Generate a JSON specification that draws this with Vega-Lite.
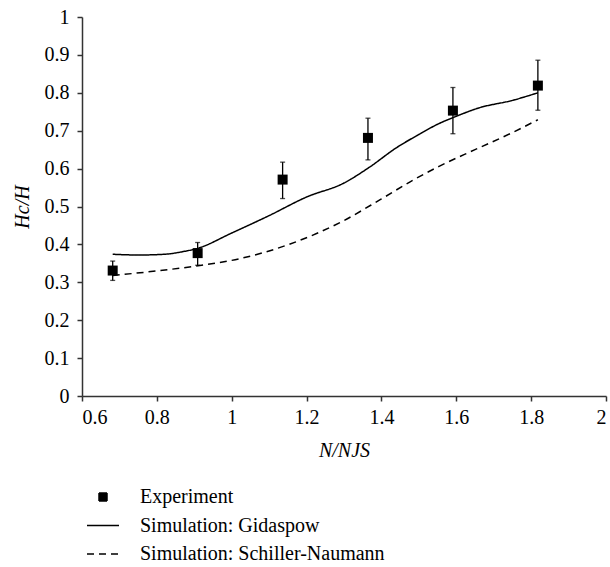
{
  "$schema": "https://vega.github.io/schema/vega-lite/v6.json",
  "width": 524,
  "height": 379,
  "autosize": {"type": "none"},
  "padding": {"left": 82, "top": 17, "right": 4, "bottom": 171},
  "background": "white",
  "config": {
    "view": {"stroke": null},
    "font": "Times New Roman, Liberation Serif, serif",
    "axis": {
      "grid": false,
      "domainColor": "#333333",
      "tickColor": "#333333",
      "domainWidth": 1.5,
      "tickWidth": 1.5,
      "tickSize": 5,
      "labelFont": "Times New Roman, Liberation Serif, serif",
      "labelFontSize": 20,
      "labelColor": "black",
      "titleFont": "Times New Roman, Liberation Serif, serif",
      "titleFontSize": 20,
      "titleFontStyle": "italic",
      "titleFontWeight": "normal",
      "titleColor": "black"
    },
    "legend": {
      "labelFont": "Times New Roman, Liberation Serif, serif",
      "labelFontSize": 20,
      "labelColor": "black",
      "labelLimit": 400
    }
  },
  "datasets": {
    "exp": [
      {"x": 0.682, "y": 0.331, "lo": 0.305, "hi": 0.356, "series": "Experiment"},
      {"x": 0.909, "y": 0.377, "lo": 0.345, "hi": 0.405, "series": "Experiment"},
      {"x": 1.136, "y": 0.571, "lo": 0.521, "hi": 0.617, "series": "Experiment"},
      {"x": 1.364, "y": 0.681, "lo": 0.623, "hi": 0.733, "series": "Experiment"},
      {"x": 1.591, "y": 0.753, "lo": 0.692, "hi": 0.814, "series": "Experiment"},
      {"x": 1.818, "y": 0.819, "lo": 0.754, "hi": 0.886, "series": "Experiment"}
    ],
    "sim": [
      {"x": 0.682, "y": 0.374, "series": "Simulation: Gidaspow"},
      {"x": 0.75, "y": 0.372, "series": "Simulation: Gidaspow"},
      {"x": 0.82, "y": 0.374, "series": "Simulation: Gidaspow"},
      {"x": 0.87, "y": 0.381, "series": "Simulation: Gidaspow"},
      {"x": 0.91, "y": 0.39, "series": "Simulation: Gidaspow"},
      {"x": 1.0, "y": 0.43, "series": "Simulation: Gidaspow"},
      {"x": 1.1, "y": 0.476, "series": "Simulation: Gidaspow"},
      {"x": 1.2, "y": 0.525, "series": "Simulation: Gidaspow"},
      {"x": 1.3, "y": 0.562, "series": "Simulation: Gidaspow"},
      {"x": 1.367, "y": 0.603, "series": "Simulation: Gidaspow"},
      {"x": 1.44, "y": 0.655, "series": "Simulation: Gidaspow"},
      {"x": 1.5, "y": 0.69, "series": "Simulation: Gidaspow"},
      {"x": 1.55, "y": 0.717, "series": "Simulation: Gidaspow"},
      {"x": 1.6, "y": 0.738, "series": "Simulation: Gidaspow"},
      {"x": 1.66, "y": 0.76, "series": "Simulation: Gidaspow"},
      {"x": 1.75, "y": 0.78, "series": "Simulation: Gidaspow"},
      {"x": 1.818, "y": 0.8, "series": "Simulation: Gidaspow"},
      {"x": 0.682, "y": 0.318, "series": "Simulation: Schiller-Naumann"},
      {"x": 0.8, "y": 0.33, "series": "Simulation: Schiller-Naumann"},
      {"x": 0.905, "y": 0.343, "series": "Simulation: Schiller-Naumann"},
      {"x": 1.02, "y": 0.362, "series": "Simulation: Schiller-Naumann"},
      {"x": 1.153, "y": 0.4, "series": "Simulation: Schiller-Naumann"},
      {"x": 1.296, "y": 0.461, "series": "Simulation: Schiller-Naumann"},
      {"x": 1.4, "y": 0.52, "series": "Simulation: Schiller-Naumann"},
      {"x": 1.487, "y": 0.571, "series": "Simulation: Schiller-Naumann"},
      {"x": 1.554, "y": 0.606, "series": "Simulation: Schiller-Naumann"},
      {"x": 1.65, "y": 0.65, "series": "Simulation: Schiller-Naumann"},
      {"x": 1.75, "y": 0.695, "series": "Simulation: Schiller-Naumann"},
      {"x": 1.818, "y": 0.729, "series": "Simulation: Schiller-Naumann"}
    ]
  },
  "layer": [
    {
      "data": {"name": "exp"},
      "mark": {"type": "errorbar", "ticks": true, "size": 5, "thickness": 1.3, "color": "black"},
      "encoding": {
        "x": {"field": "x", "type": "quantitative", "scale": {"domain": [0.6, 2], "nice": false, "zero": false},
              "axis": {"values": [0.6, 0.8, 1, 1.2, 1.4, 1.6, 1.8, 2], "format": "~g", "title": "N/NJS", "labelPadding": 6, "titlePadding": 13}},
        "y": {"field": "lo", "type": "quantitative", "scale": {"domain": [0, 1], "nice": false},
              "axis": {"values": [0, 0.1, 0.2, 0.3, 0.4, 0.5, 0.6, 0.7, 0.8, 0.9, 1], "format": "~g", "title": "Hc/H", "labelPadding": 8, "titlePadding": 12}},
        "y2": {"field": "hi"}
      }
    },
    {
      "data": {"name": "sim"},
      "mark": {"type": "line", "strokeWidth": 1.5, "interpolate": "monotone"},
      "encoding": {
        "x": {"field": "x", "type": "quantitative", "axis": {"values": [0.6, 0.8, 1, 1.2, 1.4, 1.6, 1.8, 2], "format": "~g", "title": "N/NJS", "labelPadding": 6, "titlePadding": 13}},
        "y": {"field": "y", "type": "quantitative", "axis": {"values": [0, 0.1, 0.2, 0.3, 0.4, 0.5, 0.6, 0.7, 0.8, 0.9, 1], "format": "~g", "title": "Hc/H", "labelPadding": 8, "titlePadding": 12}},
        "color": {
          "field": "series", "type": "nominal",
          "scale": {"domain": ["Experiment", "Simulation: Gidaspow", "Simulation: Schiller-Naumann"], "range": ["black", "black", "black"]},
          "legend": {"title": null, "orient": "none", "legendX": 11, "legendY": 470, "direction": "vertical", "symbolSize": 64, "symbolStrokeWidth": 1.5, "labelOffset": 27, "rowPadding": 8.5, "labelLimit": 400}
        },
        "strokeDash": {
          "field": "series", "type": "nominal",
          "scale": {"domain": ["Experiment", "Simulation: Gidaspow", "Simulation: Schiller-Naumann"], "range": [[1, 0], [1, 0], [7, 5]]},
          "legend": {"title": null, "orient": "none", "legendX": 11, "legendY": 470, "direction": "vertical", "symbolSize": 64, "symbolStrokeWidth": 1.5, "labelOffset": 27, "rowPadding": 8.5, "labelLimit": 400}
        }
      }
    },
    {
      "data": {"name": "exp"},
      "mark": {"type": "point", "filled": true, "size": 100, "opacity": 1},
      "encoding": {
        "x": {"field": "x", "type": "quantitative", "axis": {"values": [0.6, 0.8, 1, 1.2, 1.4, 1.6, 1.8, 2], "format": "~g", "title": "N/NJS", "labelPadding": 6, "titlePadding": 13}},
        "y": {"field": "y", "type": "quantitative", "axis": {"values": [0, 0.1, 0.2, 0.3, 0.4, 0.5, 0.6, 0.7, 0.8, 0.9, 1], "format": "~g", "title": "Hc/H", "labelPadding": 8, "titlePadding": 12}},
        "color": {
          "field": "series", "type": "nominal",
          "legend": {"title": null, "orient": "none", "legendX": 11, "legendY": 470, "direction": "vertical", "symbolSize": 64, "symbolStrokeWidth": 1.5, "labelOffset": 27, "rowPadding": 8.5, "labelLimit": 400}
        },
        "shape": {
          "field": "series", "type": "nominal",
          "scale": {"domain": ["Experiment", "Simulation: Gidaspow", "Simulation: Schiller-Naumann"], "range": ["square", "M-4,0H4", "M-4,0H4"]},
          "legend": {"title": null, "orient": "none", "legendX": 11, "legendY": 470, "direction": "vertical", "symbolSize": 64, "symbolStrokeWidth": 1.5, "labelOffset": 27, "rowPadding": 8.5, "labelLimit": 400}
        }
      }
    }
  ]
}
